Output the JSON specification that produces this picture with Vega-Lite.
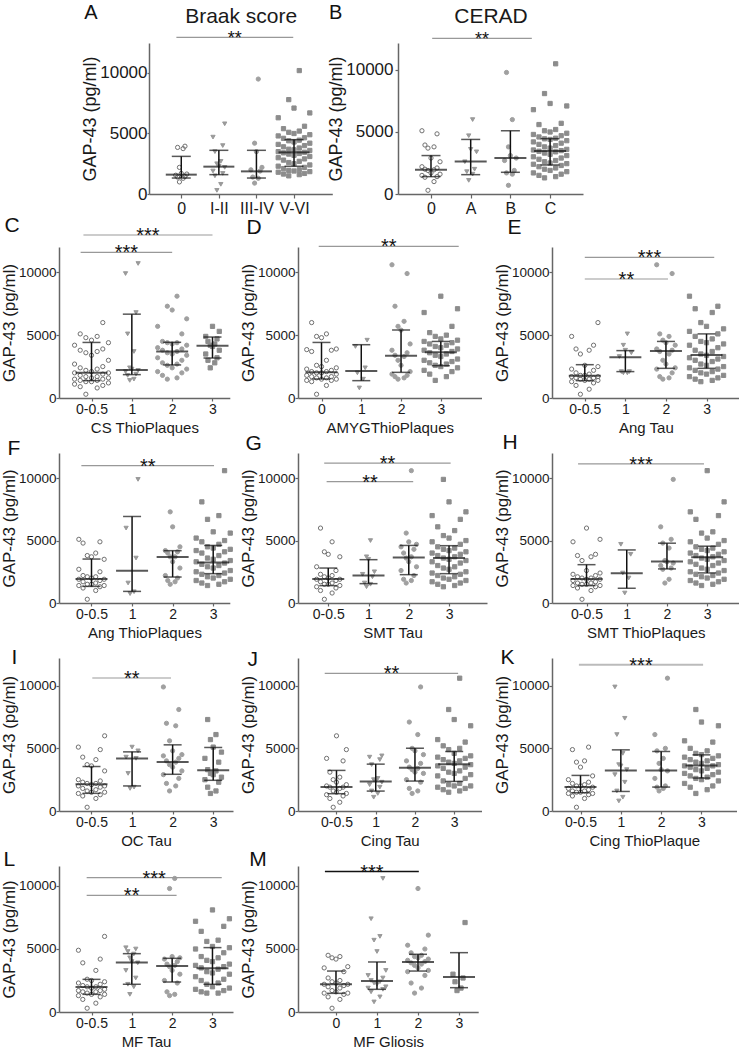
{
"$schema":"https://vega.github.io/schema/vega-lite/v6.json",
"background":"white",
"padding":{"left":0,"top":2,"right":0,"bottom":0},
"config":{"font":"Liberation Sans","view":{"stroke":null},
"axis":{"domainColor":"#666","domainWidth":1.5,"tickColor":"#666","tickWidth":1.2,"grid":false,"labelColor":"#1a1a1a","titleColor":"#1a1a1a","titleFontWeight":"normal","labelFont":"Liberation Sans","titleFont":"Liberation Sans"},
"title":{"font":"Liberation Sans","fontWeight":"normal","color":"#111"}},
"spacing":-2,
"datasets":{
"one":[{}],
"sig":[
{"p":"A","x1":-0.13,"x2":2.98,"y":12950,"s":"**"},
{"p":"B","x1":0.03,"x2":2.54,"y":12556,"s":"**"},
{"p":"C","x1":-0.2,"x2":3.0,"y":12967,"s":"***"},
{"p":"C","x1":-0.27,"x2":2.0,"y":11590,"s":"***"},
{"p":"D","x1":-0.07,"x2":3.45,"y":12068,"s":"**"},
{"p":"E","x1":0,"x2":3.19,"y":11193,"s":"***"},
{"p":"E","x1":0,"x2":2.05,"y":9467,"s":"**"},
{"p":"F","x1":-0.25,"x2":3.02,"y":11008,"s":"**"},
{"p":"G","x1":-0.1,"x2":3.04,"y":11200,"s":"**"},
{"p":"G","x1":-0.04,"x2":2.11,"y":9728,"s":"**"},
{"p":"H","x1":-0.21,"x2":2.92,"y":11147,"s":"***"},
{"p":"I","x1":0.02,"x2":1.96,"y":10616,"s":"**"},
{"p":"J","x1":-0.3,"x2":3.1,"y":10987,"s":"**"},
{"p":"K","x1":-0.04,"x2":3.04,"y":11672,"s":"***"},
{"p":"L","x1":-0.12,"x2":3.23,"y":10667,"s":"***"},
{"p":"L","x1":-0.12,"x2":2.11,"y":9262,"s":"**"},
{"p":"M","x1":-0.27,"x2":2.02,"y":11143,"s":"***"}],
"sum":[
{"p":"A","g":0,"med":1600,"q1":1320,"q3":3110},{"p":"A","g":1,"med":2260,"q1":1600,"q3":3610},{"p":"A","g":2,"med":1870,"q1":1320,"q3":3610},{"p":"A","g":3,"med":3440,"q1":2290,"q3":4490},
{"p":"B","g":0,"med":1950,"q1":1400,"q3":3100},{"p":"B","g":1,"med":2630,"q1":1560,"q3":4400},{"p":"B","g":2,"med":2900,"q1":1750,"q3":5100},{"p":"B","g":3,"med":3470,"q1":2340,"q3":4460},
{"p":"C","g":0,"med":2000,"q1":1380,"q3":4420},{"p":"C","g":1,"med":2230,"q1":1860,"q3":6670},{"p":"C","g":2,"med":3690,"q1":2630,"q3":4430},{"p":"C","g":3,"med":4160,"q1":3180,"q3":4850},
{"p":"D","g":0,"med":2040,"q1":1510,"q3":4420},{"p":"D","g":1,"med":2150,"q1":1380,"q3":4240},{"p":"D","g":2,"med":3370,"q1":2040,"q3":5410},{"p":"D","g":3,"med":3630,"q1":2570,"q3":4500},
{"p":"E","g":0,"med":1780,"q1":1380,"q3":2650},{"p":"E","g":1,"med":3240,"q1":2100,"q3":3770},{"p":"E","g":2,"med":3740,"q1":2360,"q3":4500},{"p":"E","g":3,"med":3420,"q1":2360,"q3":5100},
{"p":"F","g":0,"med":1920,"q1":1330,"q3":3520},{"p":"F","g":1,"med":2590,"q1":930,"q3":6930},{"p":"F","g":2,"med":3680,"q1":2080,"q3":4190},{"p":"F","g":3,"med":3250,"q1":2350,"q3":4610},
{"p":"G","g":0,"med":1920,"q1":1390,"q3":2800},{"p":"G","g":1,"med":2210,"q1":1550,"q3":3470},{"p":"G","g":2,"med":3650,"q1":2270,"q3":4610},{"p":"G","g":3,"med":3600,"q1":2350,"q3":4590},
{"p":"H","g":0,"med":1930,"q1":1390,"q3":3070},{"p":"H","g":1,"med":2380,"q1":1180,"q3":4250},{"p":"H","g":2,"med":3320,"q1":2730,"q3":4790},{"p":"H","g":3,"med":3660,"q1":2410,"q3":4550},
{"p":"I","g":0,"med":2130,"q1":1410,"q3":3550},{"p":"I","g":1,"med":4190,"q1":2000,"q3":4720},{"p":"I","g":2,"med":3920,"q1":2930,"q3":5280},{"p":"I","g":3,"med":3250,"q1":2450,"q3":5070},
{"p":"J","g":0,"med":1910,"q1":1380,"q3":3240},{"p":"J","g":1,"med":2360,"q1":1590,"q3":3740},{"p":"J","g":2,"med":3450,"q1":2390,"q3":5010},{"p":"J","g":3,"med":3740,"q1":2360,"q3":4750},
{"p":"K","g":0,"med":1910,"q1":1460,"q3":2840},{"p":"K","g":1,"med":3240,"q1":1560,"q3":4880},{"p":"K","g":2,"med":3240,"q1":1910,"q3":4750},{"p":"K","g":3,"med":3630,"q1":2630,"q3":4480},
{"p":"L","g":0,"med":1980,"q1":1400,"q3":2590},{"p":"L","g":1,"med":3920,"q1":2200,"q3":4630},{"p":"L","g":2,"med":3650,"q1":2380,"q3":4260},{"p":"L","g":3,"med":3470,"q1":2200,"q3":5110},
{"p":"M","g":0,"med":2200,"q1":1480,"q3":3250},{"p":"M","g":1,"med":2460,"q1":1800,"q3":3970},{"p":"M","g":2,"med":3970,"q1":3250,"q3":4580},{"p":"M","g":3,"med":2780,"q1":1930,"q3":4710}],
"A":[{"g":0,"v":3750},{"g":0,"v":3850},{"g":0,"v":3950},{"g":0,"v":2200},{"g":0,"v":1700},{"g":0,"v":1650},{"g":0,"v":1550},{"g":0,"v":1450},{"g":0,"v":1400},{"g":0,"v":1300},{"g":0,"v":1000},
{"g":1,"v":5800},{"g":1,"v":4700},{"g":1,"v":4000},{"g":1,"v":3500},{"g":1,"v":2700},{"g":1,"v":2500},{"g":1,"v":2300},{"g":1,"v":2200},{"g":1,"v":1900},{"g":1,"v":1700},{"g":1,"v":1500},{"g":1,"v":800},{"g":1,"v":300},
{"g":2,"v":9500},{"g":2,"v":4200},{"g":2,"v":3500},{"g":2,"v":2200},{"g":2,"v":2000},{"g":2,"v":1900},{"g":2,"v":1400},{"g":2,"v":1300},{"g":2,"v":900},
{"g":3,"v":10200},{"g":3,"v":7800},{"g":3,"v":7100},{"g":3,"v":6700},{"g":3,"v":6300},{"g":3,"v":5600},{"g":3,"v":5400},{"g":3,"v":5200},{"g":3,"v":5100},{"g":3,"v":5000},{"g":3,"v":4900},{"g":3,"v":4800},{"g":3,"v":4650},{"g":3,"v":4600},{"g":3,"v":4450},{"g":3,"v":4400},{"g":3,"v":4300},{"g":3,"v":4200},{"g":3,"v":4100},{"g":3,"v":4000},{"g":3,"v":3900},{"g":3,"v":3800},{"g":3,"v":3700},{"g":3,"v":3650},{"g":3,"v":3600},{"g":3,"v":3500},{"g":3,"v":3450},{"g":3,"v":3400},{"g":3,"v":3350},{"g":3,"v":3300},{"g":3,"v":3200},{"g":3,"v":3100},{"g":3,"v":3000},{"g":3,"v":2900},{"g":3,"v":2800},{"g":3,"v":2700},{"g":3,"v":2600},{"g":3,"v":2500},{"g":3,"v":2400},{"g":3,"v":2300},{"g":3,"v":2200},{"g":3,"v":2100},{"g":3,"v":2000},{"g":3,"v":1950},{"g":3,"v":1900},{"g":3,"v":1850},{"g":3,"v":1800},{"g":3,"v":1700},{"g":3,"v":1650},{"g":3,"v":1600},{"g":3,"v":1500}],
"B":[{"g":0,"v":5100},{"g":0,"v":4850},{"g":0,"v":3950},{"g":0,"v":3800},{"g":0,"v":3700},{"g":0,"v":2900},{"g":0,"v":2600},{"g":0,"v":2200},{"g":0,"v":2100},{"g":0,"v":2000},{"g":0,"v":1950},{"g":0,"v":1900},{"g":0,"v":1700},{"g":0,"v":1600},{"g":0,"v":1500},{"g":0,"v":1400},{"g":0,"v":1350},{"g":0,"v":1000},{"g":0,"v":300},
{"g":1,"v":6000},{"g":1,"v":4700},{"g":1,"v":3600},{"g":1,"v":3400},{"g":1,"v":2600},{"g":1,"v":2000},{"g":1,"v":1800},{"g":1,"v":1600},{"g":1,"v":1100},
{"g":2,"v":9800},{"g":2,"v":6000},{"g":2,"v":3800},{"g":2,"v":3100},{"g":2,"v":2900},{"g":2,"v":2700},{"g":2,"v":1900},{"g":2,"v":1700},{"g":2,"v":1600},{"g":2,"v":700},
{"g":3,"v":10500},{"g":3,"v":8100},{"g":3,"v":7300},{"g":3,"v":7100},{"g":3,"v":6800},{"g":3,"v":5700},{"g":3,"v":5600},{"g":3,"v":5200},{"g":3,"v":5100},{"g":3,"v":5000},{"g":3,"v":4900},{"g":3,"v":4800},{"g":3,"v":4700},{"g":3,"v":4600},{"g":3,"v":4500},{"g":3,"v":4450},{"g":3,"v":4400},{"g":3,"v":4300},{"g":3,"v":4200},{"g":3,"v":4100},{"g":3,"v":4000},{"g":3,"v":3900},{"g":3,"v":3800},{"g":3,"v":3700},{"g":3,"v":3600},{"g":3,"v":3550},{"g":3,"v":3500},{"g":3,"v":3450},{"g":3,"v":3400},{"g":3,"v":3300},{"g":3,"v":3200},{"g":3,"v":3100},{"g":3,"v":3000},{"g":3,"v":2900},{"g":3,"v":2800},{"g":3,"v":2700},{"g":3,"v":2600},{"g":3,"v":2500},{"g":3,"v":2450},{"g":3,"v":2400},{"g":3,"v":2300},{"g":3,"v":2200},{"g":3,"v":2100},{"g":3,"v":2000},{"g":3,"v":1900},{"g":3,"v":1800},{"g":3,"v":1700},{"g":3,"v":1600},{"g":3,"v":1500},{"g":3,"v":1400},{"g":3,"v":1300}],
"C":[{"g":0,"v":6000},{"g":0,"v":5100},{"g":0,"v":4900},{"g":0,"v":4800},{"g":0,"v":4600},{"g":0,"v":4400},{"g":0,"v":4200},{"g":0,"v":3900},{"g":0,"v":3800},{"g":0,"v":3700},{"g":0,"v":3600},{"g":0,"v":3400},{"g":0,"v":3000},{"g":0,"v":2700},{"g":0,"v":2500},{"g":0,"v":2400},{"g":0,"v":2300},{"g":0,"v":2200},{"g":0,"v":2100},{"g":0,"v":2000},{"g":0,"v":2000},{"g":0,"v":1900},{"g":0,"v":1800},{"g":0,"v":1700},{"g":0,"v":1700},{"g":0,"v":1600},{"g":0,"v":1600},{"g":0,"v":1500},{"g":0,"v":1500},{"g":0,"v":1400},{"g":0,"v":1400},{"g":0,"v":1300},{"g":0,"v":1300},{"g":0,"v":1200},{"g":0,"v":1100},{"g":0,"v":1000},{"g":0,"v":900},{"g":0,"v":800},{"g":0,"v":300},
{"g":1,"v":10700},{"g":1,"v":9900},{"g":1,"v":6800},{"g":1,"v":5100},{"g":1,"v":3700},{"g":1,"v":2400},{"g":1,"v":2300},{"g":1,"v":2200},{"g":1,"v":2100},{"g":1,"v":1900},{"g":1,"v":1800},{"g":1,"v":1500},{"g":1,"v":1400},
{"g":2,"v":8100},{"g":2,"v":7300},{"g":2,"v":7000},{"g":2,"v":6300},{"g":2,"v":5700},{"g":2,"v":5100},{"g":2,"v":4500},{"g":2,"v":4400},{"g":2,"v":4400},{"g":2,"v":4300},{"g":2,"v":4200},{"g":2,"v":4000},{"g":2,"v":3900},{"g":2,"v":3800},{"g":2,"v":3700},{"g":2,"v":3600},{"g":2,"v":3500},{"g":2,"v":3400},{"g":2,"v":3200},{"g":2,"v":3000},{"g":2,"v":2800},{"g":2,"v":2700},{"g":2,"v":2600},{"g":2,"v":2400},{"g":2,"v":2300},{"g":2,"v":2100},{"g":2,"v":2000},{"g":2,"v":1800},{"g":2,"v":1600},{"g":2,"v":1500},
{"g":3,"v":5700},{"g":3,"v":5300},{"g":3,"v":4900},{"g":3,"v":4700},{"g":3,"v":4500},{"g":3,"v":4300},{"g":3,"v":4200},{"g":3,"v":4100},{"g":3,"v":3800},{"g":3,"v":3500},{"g":3,"v":3200},{"g":3,"v":3000},{"g":3,"v":2800},{"g":3,"v":2400}],
"D":[{"g":0,"v":6000},{"g":0,"v":5100},{"g":0,"v":4900},{"g":0,"v":4800},{"g":0,"v":3900},{"g":0,"v":3850},{"g":0,"v":3800},{"g":0,"v":3700},{"g":0,"v":3000},{"g":0,"v":2600},{"g":0,"v":2500},{"g":0,"v":2400},{"g":0,"v":2300},{"g":0,"v":2200},{"g":0,"v":2100},{"g":0,"v":2100},{"g":0,"v":2000},{"g":0,"v":2000},{"g":0,"v":1900},{"g":0,"v":1800},{"g":0,"v":1700},{"g":0,"v":1700},{"g":0,"v":1600},{"g":0,"v":1600},{"g":0,"v":1500},{"g":0,"v":1500},{"g":0,"v":1400},{"g":0,"v":1400},{"g":0,"v":1300},{"g":0,"v":1000},{"g":0,"v":300},
{"g":1,"v":4600},{"g":1,"v":4100},{"g":1,"v":2400},{"g":1,"v":2000},{"g":1,"v":1500},{"g":1,"v":800},
{"g":2,"v":10600},{"g":2,"v":9900},{"g":2,"v":7300},{"g":2,"v":6100},{"g":2,"v":5700},{"g":2,"v":5400},{"g":2,"v":4300},{"g":2,"v":3800},{"g":2,"v":3600},{"g":2,"v":3400},{"g":2,"v":3300},{"g":2,"v":3000},{"g":2,"v":2600},{"g":2,"v":2100},{"g":2,"v":1900},{"g":2,"v":1800},{"g":2,"v":1700},{"g":2,"v":1600},{"g":2,"v":1500},
{"g":3,"v":8100},{"g":3,"v":7100},{"g":3,"v":6800},{"g":3,"v":5700},{"g":3,"v":5200},{"g":3,"v":5000},{"g":3,"v":4900},{"g":3,"v":4700},{"g":3,"v":4600},{"g":3,"v":4500},{"g":3,"v":4400},{"g":3,"v":4300},{"g":3,"v":4200},{"g":3,"v":4100},{"g":3,"v":4000},{"g":3,"v":3900},{"g":3,"v":3800},{"g":3,"v":3700},{"g":3,"v":3600},{"g":3,"v":3500},{"g":3,"v":3400},{"g":3,"v":3300},{"g":3,"v":3100},{"g":3,"v":3000},{"g":3,"v":2900},{"g":3,"v":2800},{"g":3,"v":2700},{"g":3,"v":2600},{"g":3,"v":2500},{"g":3,"v":2400},{"g":3,"v":2200},{"g":3,"v":2100},{"g":3,"v":1900},{"g":3,"v":1700},{"g":3,"v":1400}],
"E":[{"g":0,"v":6000},{"g":0,"v":4900},{"g":0,"v":4200},{"g":0,"v":3900},{"g":0,"v":3800},{"g":0,"v":3500},{"g":0,"v":2600},{"g":0,"v":2500},{"g":0,"v":2300},{"g":0,"v":2200},{"g":0,"v":2000},{"g":0,"v":1900},{"g":0,"v":1800},{"g":0,"v":1800},{"g":0,"v":1700},{"g":0,"v":1700},{"g":0,"v":1600},{"g":0,"v":1600},{"g":0,"v":1500},{"g":0,"v":1500},{"g":0,"v":1400},{"g":0,"v":1400},{"g":0,"v":1300},{"g":0,"v":1200},{"g":0,"v":1000},{"g":0,"v":700},{"g":0,"v":300},
{"g":1,"v":5100},{"g":1,"v":4200},{"g":1,"v":3800},{"g":1,"v":3600},{"g":1,"v":3300},{"g":1,"v":2100},{"g":1,"v":2100},{"g":1,"v":2000},{"g":1,"v":2000},
{"g":2,"v":10600},{"g":2,"v":9900},{"g":2,"v":5100},{"g":2,"v":4900},{"g":2,"v":4600},{"g":2,"v":4400},{"g":2,"v":4200},{"g":2,"v":3900},{"g":2,"v":3800},{"g":2,"v":3700},{"g":2,"v":3500},{"g":2,"v":3000},{"g":2,"v":2700},{"g":2,"v":2400},{"g":2,"v":2300},{"g":2,"v":2000},{"g":2,"v":1700},{"g":2,"v":1600},{"g":2,"v":1500},
{"g":3,"v":8100},{"g":3,"v":7300},{"g":3,"v":7100},{"g":3,"v":6800},{"g":3,"v":6000},{"g":3,"v":5700},{"g":3,"v":5500},{"g":3,"v":5300},{"g":3,"v":5100},{"g":3,"v":4900},{"g":3,"v":4700},{"g":3,"v":4500},{"g":3,"v":4400},{"g":3,"v":4300},{"g":3,"v":4200},{"g":3,"v":4000},{"g":3,"v":3800},{"g":3,"v":3700},{"g":3,"v":3500},{"g":3,"v":3400},{"g":3,"v":3300},{"g":3,"v":3200},{"g":3,"v":3100},{"g":3,"v":3000},{"g":3,"v":2900},{"g":3,"v":2700},{"g":3,"v":2600},{"g":3,"v":2500},{"g":3,"v":2400},{"g":3,"v":2300},{"g":3,"v":2200},{"g":3,"v":2100},{"g":3,"v":2000},{"g":3,"v":1900},{"g":3,"v":1800},{"g":3,"v":1700},{"g":3,"v":1600},{"g":3,"v":1500},{"g":3,"v":1400},{"g":3,"v":1300}],
"F":[{"g":0,"v":5100},{"g":0,"v":4900},{"g":0,"v":4800},{"g":0,"v":4000},{"g":0,"v":3800},{"g":0,"v":3700},{"g":0,"v":3500},{"g":0,"v":2700},{"g":0,"v":2500},{"g":0,"v":2200},{"g":0,"v":2100},{"g":0,"v":2100},{"g":0,"v":2000},{"g":0,"v":1900},{"g":0,"v":1900},{"g":0,"v":1800},{"g":0,"v":1700},{"g":0,"v":1600},{"g":0,"v":1500},{"g":0,"v":1500},{"g":0,"v":1400},{"g":0,"v":1400},{"g":0,"v":1300},{"g":0,"v":1200},{"g":0,"v":1000},{"g":0,"v":300},
{"g":1,"v":9900},{"g":1,"v":6000},{"g":1,"v":3600},{"g":1,"v":1600},{"g":1,"v":900},{"g":1,"v":750},
{"g":2,"v":7300},{"g":2,"v":6100},{"g":2,"v":4500},{"g":2,"v":4200},{"g":2,"v":4100},{"g":2,"v":4000},{"g":2,"v":3700},{"g":2,"v":3700},{"g":2,"v":3300},{"g":2,"v":2800},{"g":2,"v":2200},{"g":2,"v":2000},{"g":2,"v":1800},{"g":2,"v":1700},{"g":2,"v":1500},
{"g":3,"v":10600},{"g":3,"v":8100},{"g":3,"v":7000},{"g":3,"v":6700},{"g":3,"v":5700},{"g":3,"v":5600},{"g":3,"v":5200},{"g":3,"v":5000},{"g":3,"v":4900},{"g":3,"v":4700},{"g":3,"v":4500},{"g":3,"v":4400},{"g":3,"v":4300},{"g":3,"v":4200},{"g":3,"v":4100},{"g":3,"v":4000},{"g":3,"v":3800},{"g":3,"v":3600},{"g":3,"v":3500},{"g":3,"v":3400},{"g":3,"v":3300},{"g":3,"v":3200},{"g":3,"v":3100},{"g":3,"v":3000},{"g":3,"v":2900},{"g":3,"v":2800},{"g":3,"v":2600},{"g":3,"v":2500},{"g":3,"v":2400},{"g":3,"v":2300},{"g":3,"v":2200},{"g":3,"v":2100},{"g":3,"v":2000},{"g":3,"v":1900},{"g":3,"v":1800},{"g":3,"v":1700},{"g":3,"v":1600},{"g":3,"v":1500},{"g":3,"v":1400}],
"G":[{"g":0,"v":6000},{"g":0,"v":4900},{"g":0,"v":4100},{"g":0,"v":3900},{"g":0,"v":3700},{"g":0,"v":2900},{"g":0,"v":2600},{"g":0,"v":2300},{"g":0,"v":2200},{"g":0,"v":2100},{"g":0,"v":2000},{"g":0,"v":1900},{"g":0,"v":1900},{"g":0,"v":1800},{"g":0,"v":1700},{"g":0,"v":1600},{"g":0,"v":1500},{"g":0,"v":1500},{"g":0,"v":1400},{"g":0,"v":1300},{"g":0,"v":1200},{"g":0,"v":1000},{"g":0,"v":800},{"g":0,"v":300},
{"g":1,"v":5000},{"g":1,"v":3700},{"g":1,"v":3500},{"g":1,"v":2500},{"g":1,"v":2300},{"g":1,"v":2100},{"g":1,"v":1600},{"g":1,"v":1500},{"g":1,"v":1300},
{"g":2,"v":10600},{"g":2,"v":5600},{"g":2,"v":4900},{"g":2,"v":4700},{"g":2,"v":4500},{"g":2,"v":4300},{"g":2,"v":4000},{"g":2,"v":3700},{"g":2,"v":3600},{"g":2,"v":3300},{"g":2,"v":2900},{"g":2,"v":2600},{"g":2,"v":2200},{"g":2,"v":1900},{"g":2,"v":1800},{"g":2,"v":1600},
{"g":3,"v":9900},{"g":3,"v":8100},{"g":3,"v":7300},{"g":3,"v":7000},{"g":3,"v":6700},{"g":3,"v":6100},{"g":3,"v":5800},{"g":3,"v":5400},{"g":3,"v":5200},{"g":3,"v":5000},{"g":3,"v":4900},{"g":3,"v":4700},{"g":3,"v":4500},{"g":3,"v":4400},{"g":3,"v":4300},{"g":3,"v":4200},{"g":3,"v":4100},{"g":3,"v":4000},{"g":3,"v":3900},{"g":3,"v":3800},{"g":3,"v":3700},{"g":3,"v":3600},{"g":3,"v":3500},{"g":3,"v":3400},{"g":3,"v":3300},{"g":3,"v":3200},{"g":3,"v":3000},{"g":3,"v":2900},{"g":3,"v":2800},{"g":3,"v":2700},{"g":3,"v":2500},{"g":3,"v":2400},{"g":3,"v":2300},{"g":3,"v":2200},{"g":3,"v":2100},{"g":3,"v":2000},{"g":3,"v":1900},{"g":3,"v":1800},{"g":3,"v":1700},{"g":3,"v":1600},{"g":3,"v":1500},{"g":3,"v":1400},{"g":3,"v":1300}],
"H":[{"g":0,"v":6000},{"g":0,"v":5100},{"g":0,"v":4900},{"g":0,"v":3900},{"g":0,"v":3800},{"g":0,"v":3700},{"g":0,"v":3400},{"g":0,"v":2600},{"g":0,"v":2400},{"g":0,"v":2300},{"g":0,"v":2200},{"g":0,"v":2100},{"g":0,"v":2000},{"g":0,"v":2000},{"g":0,"v":1900},{"g":0,"v":1900},{"g":0,"v":1800},{"g":0,"v":1700},{"g":0,"v":1600},{"g":0,"v":1600},{"g":0,"v":1500},{"g":0,"v":1500},{"g":0,"v":1400},{"g":0,"v":1400},{"g":0,"v":1300},{"g":0,"v":1200},{"g":0,"v":1000},{"g":0,"v":300},
{"g":1,"v":4700},{"g":1,"v":3900},{"g":1,"v":2400},{"g":1,"v":2000},{"g":1,"v":800},
{"g":2,"v":9900},{"g":2,"v":6100},{"g":2,"v":5100},{"g":2,"v":4800},{"g":2,"v":4400},{"g":2,"v":3400},{"g":2,"v":3300},{"g":2,"v":3200},{"g":2,"v":3000},{"g":2,"v":2800},{"g":2,"v":2700},{"g":2,"v":1900},{"g":2,"v":1600},
{"g":3,"v":10600},{"g":3,"v":8100},{"g":3,"v":7300},{"g":3,"v":7000},{"g":3,"v":6700},{"g":3,"v":5700},{"g":3,"v":5600},{"g":3,"v":5200},{"g":3,"v":5000},{"g":3,"v":4900},{"g":3,"v":4700},{"g":3,"v":4500},{"g":3,"v":4400},{"g":3,"v":4300},{"g":3,"v":4200},{"g":3,"v":4100},{"g":3,"v":4000},{"g":3,"v":3900},{"g":3,"v":3800},{"g":3,"v":3700},{"g":3,"v":3600},{"g":3,"v":3500},{"g":3,"v":3400},{"g":3,"v":3300},{"g":3,"v":3200},{"g":3,"v":3100},{"g":3,"v":3000},{"g":3,"v":2800},{"g":3,"v":2700},{"g":3,"v":2600},{"g":3,"v":2500},{"g":3,"v":2400},{"g":3,"v":2300},{"g":3,"v":2200},{"g":3,"v":2100},{"g":3,"v":2000},{"g":3,"v":1900},{"g":3,"v":1800},{"g":3,"v":1700},{"g":3,"v":1600},{"g":3,"v":1500},{"g":3,"v":1400}],
"I":[{"g":0,"v":6000},{"g":0,"v":5100},{"g":0,"v":4900},{"g":0,"v":4300},{"g":0,"v":4100},{"g":0,"v":3700},{"g":0,"v":3600},{"g":0,"v":3200},{"g":0,"v":2500},{"g":0,"v":2400},{"g":0,"v":2300},{"g":0,"v":2200},{"g":0,"v":2200},{"g":0,"v":2100},{"g":0,"v":2000},{"g":0,"v":2000},{"g":0,"v":1900},{"g":0,"v":1800},{"g":0,"v":1700},{"g":0,"v":1600},{"g":0,"v":1500},{"g":0,"v":1500},{"g":0,"v":1400},{"g":0,"v":1300},{"g":0,"v":1200},{"g":0,"v":1000},{"g":0,"v":300},
{"g":1,"v":5100},{"g":1,"v":4800},{"g":1,"v":4300},{"g":1,"v":4200},{"g":1,"v":3000},{"g":1,"v":1900},{"g":1,"v":1800},
{"g":2,"v":9900},{"g":2,"v":8100},{"g":2,"v":7000},{"g":2,"v":6800},{"g":2,"v":5600},{"g":2,"v":4800},{"g":2,"v":4500},{"g":2,"v":4400},{"g":2,"v":4200},{"g":2,"v":4000},{"g":2,"v":3900},{"g":2,"v":3700},{"g":2,"v":3500},{"g":2,"v":3200},{"g":2,"v":2900},{"g":2,"v":2600},{"g":2,"v":2200},{"g":2,"v":2000},{"g":2,"v":1600},
{"g":3,"v":7300},{"g":3,"v":6100},{"g":3,"v":5700},{"g":3,"v":5100},{"g":3,"v":4700},{"g":3,"v":4200},{"g":3,"v":3900},{"g":3,"v":3300},{"g":3,"v":3200},{"g":3,"v":3000},{"g":3,"v":2900},{"g":3,"v":2700},{"g":3,"v":2500},{"g":3,"v":2300},{"g":3,"v":1900},{"g":3,"v":1600},{"g":3,"v":1400}],
"J":[{"g":0,"v":6000},{"g":0,"v":4900},{"g":0,"v":4200},{"g":0,"v":4000},{"g":0,"v":3100},{"g":0,"v":2700},{"g":0,"v":2500},{"g":0,"v":2300},{"g":0,"v":2100},{"g":0,"v":2000},{"g":0,"v":1900},{"g":0,"v":1900},{"g":0,"v":1800},{"g":0,"v":1600},{"g":0,"v":1500},{"g":0,"v":1400},{"g":0,"v":1300},{"g":0,"v":1200},{"g":0,"v":1000},{"g":0,"v":700},{"g":0,"v":300},
{"g":1,"v":4400},{"g":1,"v":4300},{"g":1,"v":4100},{"g":1,"v":3700},{"g":1,"v":2600},{"g":1,"v":2500},{"g":1,"v":2400},{"g":1,"v":2300},{"g":1,"v":2100},{"g":1,"v":1900},{"g":1,"v":1600},{"g":1,"v":1400},{"g":1,"v":1100},
{"g":2,"v":9900},{"g":2,"v":7100},{"g":2,"v":6100},{"g":2,"v":5000},{"g":2,"v":4800},{"g":2,"v":4500},{"g":2,"v":4000},{"g":2,"v":3800},{"g":2,"v":3500},{"g":2,"v":3400},{"g":2,"v":3300},{"g":2,"v":3100},{"g":2,"v":3000},{"g":2,"v":2500},{"g":2,"v":2300},{"g":2,"v":1800},{"g":2,"v":1600},{"g":2,"v":1400},
{"g":3,"v":10600},{"g":3,"v":8100},{"g":3,"v":7300},{"g":3,"v":6800},{"g":3,"v":5700},{"g":3,"v":5500},{"g":3,"v":5200},{"g":3,"v":5000},{"g":3,"v":4900},{"g":3,"v":4600},{"g":3,"v":4400},{"g":3,"v":4300},{"g":3,"v":4200},{"g":3,"v":4100},{"g":3,"v":4000},{"g":3,"v":3900},{"g":3,"v":3800},{"g":3,"v":3700},{"g":3,"v":3600},{"g":3,"v":3500},{"g":3,"v":3400},{"g":3,"v":3200},{"g":3,"v":3100},{"g":3,"v":3000},{"g":3,"v":2900},{"g":3,"v":2800},{"g":3,"v":2600},{"g":3,"v":2400},{"g":3,"v":2200},{"g":3,"v":2100},{"g":3,"v":2000},{"g":3,"v":2000},{"g":3,"v":1900},{"g":3,"v":1800},{"g":3,"v":1700},{"g":3,"v":1600},{"g":3,"v":1500}],
"K":[{"g":0,"v":5100},{"g":0,"v":4900},{"g":0,"v":4000},{"g":0,"v":3900},{"g":0,"v":3500},{"g":0,"v":2800},{"g":0,"v":2500},{"g":0,"v":2300},{"g":0,"v":2200},{"g":0,"v":2100},{"g":0,"v":2000},{"g":0,"v":2000},{"g":0,"v":1900},{"g":0,"v":1800},{"g":0,"v":1700},{"g":0,"v":1600},{"g":0,"v":1600},{"g":0,"v":1500},{"g":0,"v":1500},{"g":0,"v":1400},{"g":0,"v":1400},{"g":0,"v":1300},{"g":0,"v":1200},{"g":0,"v":1000},{"g":0,"v":300},
{"g":1,"v":9900},{"g":1,"v":7400},{"g":1,"v":6100},{"g":1,"v":4600},{"g":1,"v":3700},{"g":1,"v":3600},{"g":1,"v":3300},{"g":1,"v":2900},{"g":1,"v":2300},{"g":1,"v":1600},{"g":1,"v":1100},{"g":1,"v":800},
{"g":2,"v":10600},{"g":2,"v":6100},{"g":2,"v":5000},{"g":2,"v":4800},{"g":2,"v":4200},{"g":2,"v":3800},{"g":2,"v":3300},{"g":2,"v":3200},{"g":2,"v":2600},{"g":2,"v":2000},{"g":2,"v":1900},{"g":2,"v":1800},{"g":2,"v":1600},
{"g":3,"v":8100},{"g":3,"v":7100},{"g":3,"v":6800},{"g":3,"v":5600},{"g":3,"v":5500},{"g":3,"v":5000},{"g":3,"v":4800},{"g":3,"v":4600},{"g":3,"v":4500},{"g":3,"v":4400},{"g":3,"v":4300},{"g":3,"v":4200},{"g":3,"v":4100},{"g":3,"v":4000},{"g":3,"v":3900},{"g":3,"v":3800},{"g":3,"v":3700},{"g":3,"v":3600},{"g":3,"v":3600},{"g":3,"v":3500},{"g":3,"v":3400},{"g":3,"v":3300},{"g":3,"v":3200},{"g":3,"v":3100},{"g":3,"v":3000},{"g":3,"v":2900},{"g":3,"v":2800},{"g":3,"v":2700},{"g":3,"v":2600},{"g":3,"v":2500},{"g":3,"v":2400},{"g":3,"v":2200},{"g":3,"v":2000},{"g":3,"v":1900},{"g":3,"v":1700},{"g":3,"v":1400}],
"L":[{"g":0,"v":6000},{"g":0,"v":4900},{"g":0,"v":4200},{"g":0,"v":3900},{"g":0,"v":3300},{"g":0,"v":2600},{"g":0,"v":2500},{"g":0,"v":2400},{"g":0,"v":2300},{"g":0,"v":2200},{"g":0,"v":2100},{"g":0,"v":2000},{"g":0,"v":2000},{"g":0,"v":1900},{"g":0,"v":1800},{"g":0,"v":1700},{"g":0,"v":1700},{"g":0,"v":1600},{"g":0,"v":1600},{"g":0,"v":1500},{"g":0,"v":1400},{"g":0,"v":1400},{"g":0,"v":1300},{"g":0,"v":1200},{"g":0,"v":1000},{"g":0,"v":700},{"g":0,"v":300},
{"g":1,"v":5100},{"g":1,"v":5000},{"g":1,"v":4800},{"g":1,"v":4600},{"g":1,"v":4300},{"g":1,"v":4000},{"g":1,"v":3900},{"g":1,"v":3300},{"g":1,"v":2700},{"g":1,"v":2200},{"g":1,"v":2000},{"g":1,"v":1400},
{"g":2,"v":10600},{"g":2,"v":9800},{"g":2,"v":4400},{"g":2,"v":4300},{"g":2,"v":4200},{"g":2,"v":4000},{"g":2,"v":3800},{"g":2,"v":3700},{"g":2,"v":3600},{"g":2,"v":3300},{"g":2,"v":3000},{"g":2,"v":2500},{"g":2,"v":2300},{"g":2,"v":1600},{"g":2,"v":1400},{"g":2,"v":1300},
{"g":3,"v":8100},{"g":3,"v":7400},{"g":3,"v":7200},{"g":3,"v":6800},{"g":3,"v":6400},{"g":3,"v":5700},{"g":3,"v":5600},{"g":3,"v":5200},{"g":3,"v":5100},{"g":3,"v":5000},{"g":3,"v":4700},{"g":3,"v":4400},{"g":3,"v":4300},{"g":3,"v":4100},{"g":3,"v":4000},{"g":3,"v":3800},{"g":3,"v":3700},{"g":3,"v":3600},{"g":3,"v":3500},{"g":3,"v":3400},{"g":3,"v":3200},{"g":3,"v":3100},{"g":3,"v":3000},{"g":3,"v":2800},{"g":3,"v":2600},{"g":3,"v":2500},{"g":3,"v":2300},{"g":3,"v":2200},{"g":3,"v":2000},{"g":3,"v":1900},{"g":3,"v":1800},{"g":3,"v":1700},{"g":3,"v":1600},{"g":3,"v":1500},{"g":3,"v":1500}],
"M":[{"g":0,"v":4500},{"g":0,"v":4400},{"g":0,"v":4300},{"g":0,"v":4200},{"g":0,"v":3600},{"g":0,"v":3500},{"g":0,"v":3200},{"g":0,"v":2700},{"g":0,"v":2500},{"g":0,"v":2400},{"g":0,"v":2300},{"g":0,"v":2200},{"g":0,"v":2200},{"g":0,"v":2100},{"g":0,"v":2000},{"g":0,"v":1900},{"g":0,"v":1700},{"g":0,"v":1600},{"g":0,"v":1500},{"g":0,"v":1500},{"g":0,"v":1400},{"g":0,"v":1200},{"g":0,"v":1000},{"g":0,"v":300},
{"g":1,"v":10600},{"g":1,"v":7400},{"g":1,"v":6000},{"g":1,"v":5700},{"g":1,"v":4800},{"g":1,"v":3300},{"g":1,"v":2900},{"g":1,"v":2700},{"g":1,"v":2500},{"g":1,"v":2400},{"g":1,"v":2300},{"g":1,"v":2200},{"g":1,"v":2000},{"g":1,"v":1900},{"g":1,"v":1800},{"g":1,"v":1600},{"g":1,"v":1200},{"g":1,"v":800},
{"g":2,"v":9800},{"g":2,"v":6100},{"g":2,"v":5300},{"g":2,"v":5000},{"g":2,"v":4700},{"g":2,"v":4500},{"g":2,"v":4400},{"g":2,"v":4300},{"g":2,"v":4200},{"g":2,"v":4100},{"g":2,"v":4000},{"g":2,"v":3900},{"g":2,"v":3800},{"g":2,"v":3700},{"g":2,"v":3500},{"g":2,"v":3300},{"g":2,"v":3200},{"g":2,"v":2900},{"g":2,"v":2300},{"g":2,"v":1900},{"g":2,"v":1500},
{"g":3,"v":7100},{"g":3,"v":3000},{"g":3,"v":2700},{"g":3,"v":2400},{"g":3,"v":1900},{"g":3,"v":1700}]
},
"vconcat":[
{"hconcat":[
{"width":24.2,"height":151,"data":{"values":[]},"mark":"point"},

{"width":183.3,"height":151,
"resolve":{"axis":{"x":"independent"}},
"layer":[
{"data":{"name":"A"},"transform":[{"window":[{"op":"row_number","as":"rn"}],"groupby":["g"],"sort":[{"field":"v","order":"ascending"}]},{"joinaggregate":[{"op":"count","as":"n"}],"groupby":["g"]},{"calculate":"datum.g + [0,-1,1,-2,2,-3,3][datum.rn % 7] * 0.14 * min(1, max(0.35, datum.n / 35))","as":"xj"}],
"mark":{"type":"point","size":18,"strokeWidth":1,"opacity":1},
"encoding":{"x":{"field":"xj","type":"quantitative","scale":{"domain":[-0.859,4.019],"nice":false,"zero":false},"axis":{"values":[0,1,2,3],"labelExpr":"['0','I-II','III-IV','V-VI'][datum.value]","title":null,"labelFontSize":16,"tickSize":4,"labelPadding":2}},
"y":{"field":"v","type":"quantitative","scale":{"domain":[0,12479],"nice":false,"zero":false},"axis":{"values":[0,5000,10000],"format":"d","title":"GAP-43 (pg/ml)","labelFontSize":17,"titleFontSize":18,"tickSize":2,"labelPadding":0,"titlePadding":0}},
"shape":{"field":"g","type":"nominal","scale":{"domain":[0,1,2,3],"range":["circle","triangle-down","circle","square"]},"legend":null},
"fill":{"field":"g","type":"nominal","scale":{"domain":[0,1,2,3],"range":["transparent","#9a9a9a","#a0a0a0","#8c8c8c"]},"legend":null},
"stroke":{"field":"g","type":"nominal","scale":{"domain":[0,1,2,3],"range":["#707070","#9a9a9a","#a0a0a0","#8c8c8c"]},"legend":null}}},
{"data":{"name":"sum"},"transform":[{"filter":"datum.p=='A'"}],"mark":{"type":"rule","color":"#111","strokeWidth":1.5},"encoding":{"x":{"field":"g","type":"quantitative","axis":null},"y":{"field":"q1","type":"quantitative"},"y2":{"field":"q3"}}},
{"data":{"name":"sum"},"transform":[{"filter":"datum.p=='A'"}],"mark":{"type":"tick","orient":"horizontal","color":"#111","size":31,"thickness":2},"encoding":{"x":{"field":"g","type":"quantitative","axis":null},"y":{"field":"med","type":"quantitative"}}},
{"data":{"name":"sum"},"transform":[{"filter":"datum.p=='A'"},{"fold":["q1","q3"],"as":["k","qv"]}],"mark":{"type":"tick","orient":"horizontal","color":"#111","size":19,"thickness":1.5},"encoding":{"x":{"field":"g","type":"quantitative","axis":null},"y":{"field":"qv","type":"quantitative"}}},
{"data":{"name":"sig"},"transform":[{"filter":"datum.p=='A'"}],"mark":{"type":"rule","color":"#999","strokeWidth":1.2},"encoding":{"x":{"field":"x1","type":"quantitative","axis":{"orient":"top","title":"Braak score","labels":false,"ticks":false,"domain":false,"titleFontSize":21,"titlePadding":21,"titleBaseline":"alphabetic"}},"x2":{"field":"x2"},"y":{"field":"y","type":"quantitative"}}},
{"data":{"name":"sig"},"transform":[{"filter":"datum.p=='A'"},{"calculate":"(datum.x1+datum.x2)/2","as":"xm"}],"mark":{"type":"text","fontSize":18,"baseline":"alphabetic","dy":7,"color":"#111"},"encoding":{"x":{"field":"xm","type":"quantitative","axis":null},"y":{"field":"y","type":"quantitative"},"text":{"field":"s"}}},
{"data":{"name":"one"},"mark":{"type":"text","text":"A","fontSize":20,"align":"left","baseline":"alphabetic","color":"#111"},"encoding":{"x":{"datum":-2.582,"type":"quantitative","axis":null},"y":{"datum":14463,"type":"quantitative"}}}
]},

{"width":185,"height":151,
"resolve":{"axis":{"x":"independent"}},
"layer":[
{"data":{"name":"B"},"transform":[{"window":[{"op":"row_number","as":"rn"}],"groupby":["g"],"sort":[{"field":"v","order":"ascending"}]},{"joinaggregate":[{"op":"count","as":"n"}],"groupby":["g"]},{"calculate":"datum.g + [0,-1,1,-2,2,-3,3][datum.rn % 7] * 0.14 * min(1, max(0.35, datum.n / 35))","as":"xj"}],
"mark":{"type":"point","size":18,"strokeWidth":1,"opacity":1},
"encoding":{"x":{"field":"xj","type":"quantitative","scale":{"domain":[-0.831,3.829],"nice":false,"zero":false},"axis":{"values":[0,1,2,3],"labelExpr":"['0','A','B','C'][datum.value]","title":null,"labelFontSize":16,"tickSize":4,"labelPadding":2}},
"y":{"field":"v","type":"quantitative","scale":{"domain":[0,12177],"nice":false,"zero":false},"axis":{"values":[0,5000,10000],"format":"d","title":"GAP-43 (pg/ml)","labelFontSize":17,"titleFontSize":18,"tickSize":3,"labelPadding":2,"titlePadding":0}},
"shape":{"field":"g","type":"nominal","scale":{"domain":[0,1,2,3],"range":["circle","triangle-down","circle","square"]},"legend":null},
"fill":{"field":"g","type":"nominal","scale":{"domain":[0,1,2,3],"range":["transparent","#9a9a9a","#a0a0a0","#8c8c8c"]},"legend":null},
"stroke":{"field":"g","type":"nominal","scale":{"domain":[0,1,2,3],"range":["#707070","#9a9a9a","#a0a0a0","#8c8c8c"]},"legend":null}}},
{"data":{"name":"sum"},"transform":[{"filter":"datum.p=='B'"}],"mark":{"type":"rule","color":"#111","strokeWidth":1.5},"encoding":{"x":{"field":"g","type":"quantitative","axis":null},"y":{"field":"q1","type":"quantitative"},"y2":{"field":"q3"}}},
{"data":{"name":"sum"},"transform":[{"filter":"datum.p=='B'"}],"mark":{"type":"tick","orient":"horizontal","color":"#111","size":32,"thickness":2},"encoding":{"x":{"field":"g","type":"quantitative","axis":null},"y":{"field":"med","type":"quantitative"}}},
{"data":{"name":"sum"},"transform":[{"filter":"datum.p=='B'"},{"fold":["q1","q3"],"as":["k","qv"]}],"mark":{"type":"tick","orient":"horizontal","color":"#111","size":19,"thickness":1.5},"encoding":{"x":{"field":"g","type":"quantitative","axis":null},"y":{"field":"qv","type":"quantitative"}}},
{"data":{"name":"sig"},"transform":[{"filter":"datum.p=='B'"}],"mark":{"type":"rule","color":"#999","strokeWidth":1.2},"encoding":{"x":{"field":"x1","type":"quantitative","axis":{"orient":"top","title":"CERAD","labels":false,"ticks":false,"domain":false,"titleFontSize":21,"titlePadding":21,"titleBaseline":"alphabetic"}},"x2":{"field":"x2"},"y":{"field":"y","type":"quantitative"}}},
{"data":{"name":"sig"},"transform":[{"filter":"datum.p=='B'"},{"calculate":"(datum.x1+datum.x2)/2","as":"xm"}],"mark":{"type":"text","fontSize":18,"baseline":"alphabetic","dy":7,"color":"#111"},"encoding":{"x":{"field":"xm","type":"quantitative","axis":null},"y":{"field":"y","type":"quantitative"},"text":{"field":"s"}}},
{"data":{"name":"one"},"mark":{"type":"text","text":"B","fontSize":20,"align":"left","baseline":"alphabetic","color":"#111"},"encoding":{"x":{"datum":-2.569,"type":"quantitative","axis":null},"y":{"datum":14113,"type":"quantitative"}}}
]}
],"bounds":"flush","spacing":65},

{"concat":[
{"width":170.8,"height":151,
"layer":[
{"data":{"name":"C"},"transform":[{"window":[{"op":"row_number","as":"rn"}],"groupby":["g"],"sort":[{"field":"v","order":"ascending"}]},{"joinaggregate":[{"op":"count","as":"n"}],"groupby":["g"]},{"calculate":"datum.g + [0,-1,1,-2,2,-3,3][datum.rn % 7] * 0.14 * min(1, max(0.35, datum.n / 35))","as":"xj"}],
"mark":{"type":"point","size":18,"strokeWidth":1,"opacity":1},
"encoding":{"x":{"field":"xj","type":"quantitative","scale":{"domain":[-0.806,3.429],"nice":false,"zero":false},"axis":{"values":[0,1,2,3],"labelExpr":"['0-0.5','1','2','3'][datum.value]","title":"CS ThioPlaques","labelFontSize":14,"titleFontSize":15,"tickSize":3,"labelPadding":1,"titlePadding":4}},
"y":{"field":"v","type":"quantitative","scale":{"domain":[0,12013],"nice":false,"zero":false},"axis":{"values":[0,5000,10000],"format":"d","title":"GAP-43 (pg/ml)","labelFontSize":13.5,"titleFontSize":17,"tickSize":3,"labelPadding":0,"titlePadding":0}},
"shape":{"field":"g","type":"nominal","scale":{"domain":[0,1,2,3],"range":["circle","triangle-down","circle","circle"]},"legend":null},
"fill":{"field":"g","type":"nominal","scale":{"domain":[0,1,2,3],"range":["transparent","#9a9a9a","#a8a8a8","#000000"]},"legend":null},
"stroke":{"field":"g","type":"nominal","scale":{"domain":[0,1,2,3],"range":["#707070","#9a9a9a","#a8a8a8","#000000"]},"legend":null}}},
{"data":{"name":"sum"},"transform":[{"filter":"datum.p=='C'"}],"mark":{"type":"rule","color":"#111","strokeWidth":1.5},"encoding":{"x":{"field":"g","type":"quantitative"},"y":{"field":"q1","type":"quantitative"},"y2":{"field":"q3"}}},
{"data":{"name":"sum"},"transform":[{"filter":"datum.p=='C'"}],"mark":{"type":"tick","orient":"horizontal","color":"#111","size":32,"thickness":2},"encoding":{"x":{"field":"g","type":"quantitative"},"y":{"field":"med","type":"quantitative"}}},
{"data":{"name":"sum"},"transform":[{"filter":"datum.p=='C'"},{"fold":["q1","q3"],"as":["k","qv"]}],"mark":{"type":"tick","orient":"horizontal","color":"#111","size":18,"thickness":1.5},"encoding":{"x":{"field":"g","type":"quantitative"},"y":{"field":"qv","type":"quantitative"}}},
{"data":{"name":"sig"},"transform":[{"filter":"datum.p=='C'"}],"mark":{"type":"rule","color":"#999","strokeWidth":1.2},"encoding":{"x":{"field":"x1","type":"quantitative"},"x2":{"field":"x2"},"y":{"field":"y","type":"quantitative"}}},
{"data":{"name":"sig"},"transform":[{"filter":"datum.p=='C'"},{"calculate":"(datum.x1+datum.x2)/2","as":"xm"}],"mark":{"type":"text","fontSize":20,"baseline":"alphabetic","dy":7,"color":"#111"},"encoding":{"x":{"field":"xm","type":"quantitative"},"y":{"field":"y","type":"quantitative"},"text":{"field":"s"}}},
{"data":{"name":"one"},"mark":{"type":"text","text":"C","fontSize":21,"align":"left","baseline":"alphabetic","color":"#111"},"encoding":{"x":{"datum":-2.157,"type":"quantitative"},"y":{"datum":13246,"type":"quantitative"}}}
]},

{"width":183.5,"height":151,
"layer":[
{"data":{"name":"D"},"transform":[{"window":[{"op":"row_number","as":"rn"}],"groupby":["g"],"sort":[{"field":"v","order":"ascending"}]},{"joinaggregate":[{"op":"count","as":"n"}],"groupby":["g"]},{"calculate":"datum.g + [0,-1,1,-2,2,-3,3][datum.rn % 7] * 0.14 * min(1, max(0.35, datum.n / 35))","as":"xj"}],
"mark":{"type":"point","size":18,"strokeWidth":1,"opacity":1},
"encoding":{"x":{"field":"xj","type":"quantitative","scale":{"domain":[-0.591,4.023],"nice":false,"zero":false},"axis":{"values":[0,1,2,3],"labelExpr":"['0','1','2','3'][datum.value]","title":"AMYGThioPlaques","labelFontSize":14,"titleFontSize":15,"tickSize":3,"labelPadding":1,"titlePadding":4}},
"y":{"field":"v","type":"quantitative","scale":{"domain":[0,12013],"nice":false,"zero":false},"axis":{"values":[0,5000,10000],"format":"d","title":"GAP-43 (pg/ml)","labelFontSize":13.5,"titleFontSize":17,"tickSize":3,"labelPadding":0,"titlePadding":0}},
"shape":{"field":"g","type":"nominal","scale":{"domain":[0,1,2,3],"range":["circle","triangle-down","circle","square"]},"legend":null},
"fill":{"field":"g","type":"nominal","scale":{"domain":[0,1,2,3],"range":["transparent","#9a9a9a","#a0a0a0","#8c8c8c"]},"legend":null},
"stroke":{"field":"g","type":"nominal","scale":{"domain":[0,1,2,3],"range":["#707070","#9a9a9a","#a0a0a0","#8c8c8c"]},"legend":null}}},
{"data":{"name":"sum"},"transform":[{"filter":"datum.p=='D'"}],"mark":{"type":"rule","color":"#111","strokeWidth":1.5},"encoding":{"x":{"field":"g","type":"quantitative"},"y":{"field":"q1","type":"quantitative"},"y2":{"field":"q3"}}},
{"data":{"name":"sum"},"transform":[{"filter":"datum.p=='D'"}],"mark":{"type":"tick","orient":"horizontal","color":"#111","size":32,"thickness":2},"encoding":{"x":{"field":"g","type":"quantitative"},"y":{"field":"med","type":"quantitative"}}},
{"data":{"name":"sum"},"transform":[{"filter":"datum.p=='D'"},{"fold":["q1","q3"],"as":["k","qv"]}],"mark":{"type":"tick","orient":"horizontal","color":"#111","size":18,"thickness":1.5},"encoding":{"x":{"field":"g","type":"quantitative"},"y":{"field":"qv","type":"quantitative"}}},
{"data":{"name":"sig"},"transform":[{"filter":"datum.p=='D'"}],"mark":{"type":"rule","color":"#999","strokeWidth":1.2},"encoding":{"x":{"field":"x1","type":"quantitative"},"x2":{"field":"x2"},"y":{"field":"y","type":"quantitative"}}},
{"data":{"name":"sig"},"transform":[{"filter":"datum.p=='D'"},{"calculate":"(datum.x1+datum.x2)/2","as":"xm"}],"mark":{"type":"text","fontSize":20,"baseline":"alphabetic","dy":7,"color":"#111"},"encoding":{"x":{"field":"xm","type":"quantitative"},"y":{"field":"y","type":"quantitative"},"text":{"field":"s"}}},
{"data":{"name":"one"},"mark":{"type":"text","text":"D","fontSize":21,"align":"left","baseline":"alphabetic","color":"#111"},"encoding":{"x":{"datum":-1.886,"type":"quantitative"},"y":{"datum":13047,"type":"quantitative"}}}
]},

{"width":187.8,"height":151,
"layer":[
{"data":{"name":"E"},"transform":[{"window":[{"op":"row_number","as":"rn"}],"groupby":["g"],"sort":[{"field":"v","order":"ascending"}]},{"joinaggregate":[{"op":"count","as":"n"}],"groupby":["g"]},{"calculate":"datum.g + [0,-1,1,-2,2,-3,3][datum.rn % 7] * 0.14 * min(1, max(0.35, datum.n / 35))","as":"xj"}],
"mark":{"type":"point","size":18,"strokeWidth":1,"opacity":1},
"encoding":{"x":{"field":"xj","type":"quantitative","scale":{"domain":[-0.808,3.82],"nice":false,"zero":false},"axis":{"values":[0,1,2,3],"labelExpr":"['0-0.5','1','2','3'][datum.value]","title":"Ang Tau","labelFontSize":14,"titleFontSize":15,"tickSize":3,"labelPadding":1,"titlePadding":4}},
"y":{"field":"v","type":"quantitative","scale":{"domain":[0,12013],"nice":false,"zero":false},"axis":{"values":[0,5000,10000],"format":"d","title":"GAP-43 (pg/ml)","labelFontSize":13.5,"titleFontSize":17,"tickSize":3,"labelPadding":0,"titlePadding":0}},
"shape":{"field":"g","type":"nominal","scale":{"domain":[0,1,2,3],"range":["circle","circle","square","circle"]},"legend":null},
"fill":{"field":"g","type":"nominal","scale":{"domain":[0,1,2,3],"range":["transparent","#a0a0a0","#8c8c8c","transparent"]},"legend":null},
"stroke":{"field":"g","type":"nominal","scale":{"domain":[0,1,2,3],"range":["#707070","#a0a0a0","#8c8c8c","#a8a8a8"]},"legend":null}}},
{"data":{"name":"sum"},"transform":[{"filter":"datum.p=='E'"}],"mark":{"type":"rule","color":"#111","strokeWidth":1.5},"encoding":{"x":{"field":"g","type":"quantitative"},"y":{"field":"q1","type":"quantitative"},"y2":{"field":"q3"}}},
{"data":{"name":"sum"},"transform":[{"filter":"datum.p=='E'"}],"mark":{"type":"tick","orient":"horizontal","color":"#111","size":32,"thickness":2},"encoding":{"x":{"field":"g","type":"quantitative"},"y":{"field":"med","type":"quantitative"}}},
{"data":{"name":"sum"},"transform":[{"filter":"datum.p=='E'"},{"fold":["q1","q3"],"as":["k","qv"]}],"mark":{"type":"tick","orient":"horizontal","color":"#111","size":18,"thickness":1.5},"encoding":{"x":{"field":"g","type":"quantitative"},"y":{"field":"qv","type":"quantitative"}}},
{"data":{"name":"sig"},"transform":[{"filter":"datum.p=='E'"}],"mark":{"type":"rule","color":"#999","strokeWidth":1.2},"encoding":{"x":{"field":"x1","type":"quantitative"},"x2":{"field":"x2"},"y":{"field":"y","type":"quantitative"}}},
{"data":{"name":"sig"},"transform":[{"filter":"datum.p=='E'"},{"calculate":"(datum.x1+datum.x2)/2","as":"xm"}],"mark":{"type":"text","fontSize":20,"baseline":"alphabetic","dy":7,"color":"#111"},"encoding":{"x":{"field":"xm","type":"quantitative"},"y":{"field":"y","type":"quantitative"},"text":{"field":"s"}}},
{"data":{"name":"one"},"mark":{"type":"text","text":"E","fontSize":21,"align":"left","baseline":"alphabetic","color":"#111"},"encoding":{"x":{"datum":-1.905,"type":"quantitative"},"y":{"datum":13047,"type":"quantitative"}}}
]},

{"width":170.8,"height":150,
"layer":[
{"data":{"name":"F"},"transform":[{"window":[{"op":"row_number","as":"rn"}],"groupby":["g"],"sort":[{"field":"v","order":"ascending"}]},{"joinaggregate":[{"op":"count","as":"n"}],"groupby":["g"]},{"calculate":"datum.g + [0,-1,1,-2,2,-3,3][datum.rn % 7] * 0.14 * min(1, max(0.35, datum.n / 35))","as":"xj"}],
"mark":{"type":"point","size":18,"strokeWidth":1,"opacity":1},
"encoding":{"x":{"field":"xj","type":"quantitative","scale":{"domain":[-0.801,3.409],"nice":false,"zero":false},"axis":{"values":[0,1,2,3],"labelExpr":"['0-0.5','1','2','3'][datum.value]","title":"Ang ThioPlaques","labelFontSize":14,"titleFontSize":15,"tickSize":3,"labelPadding":1,"titlePadding":4}},
"y":{"field":"v","type":"quantitative","scale":{"domain":[0,12014],"nice":false,"zero":false},"axis":{"values":[0,5000,10000],"format":"d","title":"GAP-43 (pg/ml)","labelFontSize":13.5,"titleFontSize":17,"tickSize":3,"labelPadding":0,"titlePadding":0}},
"shape":{"field":"g","type":"nominal","scale":{"domain":[0,1,2,3],"range":["circle","circle","square","circle"]},"legend":null},
"fill":{"field":"g","type":"nominal","scale":{"domain":[0,1,2,3],"range":["transparent","#a0a0a0","#8c8c8c","transparent"]},"legend":null},
"stroke":{"field":"g","type":"nominal","scale":{"domain":[0,1,2,3],"range":["#707070","#a0a0a0","#8c8c8c","#a8a8a8"]},"legend":null}}},
{"data":{"name":"sum"},"transform":[{"filter":"datum.p=='F'"}],"mark":{"type":"rule","color":"#111","strokeWidth":1.5},"encoding":{"x":{"field":"g","type":"quantitative"},"y":{"field":"q1","type":"quantitative"},"y2":{"field":"q3"}}},
{"data":{"name":"sum"},"transform":[{"filter":"datum.p=='F'"}],"mark":{"type":"tick","orient":"horizontal","color":"#111","size":32,"thickness":2},"encoding":{"x":{"field":"g","type":"quantitative"},"y":{"field":"med","type":"quantitative"}}},
{"data":{"name":"sum"},"transform":[{"filter":"datum.p=='F'"},{"fold":["q1","q3"],"as":["k","qv"]}],"mark":{"type":"tick","orient":"horizontal","color":"#111","size":18,"thickness":1.5},"encoding":{"x":{"field":"g","type":"quantitative"},"y":{"field":"qv","type":"quantitative"}}},
{"data":{"name":"sig"},"transform":[{"filter":"datum.p=='F'"}],"mark":{"type":"rule","color":"#999","strokeWidth":1.2},"encoding":{"x":{"field":"x1","type":"quantitative"},"x2":{"field":"x2"},"y":{"field":"y","type":"quantitative"}}},
{"data":{"name":"sig"},"transform":[{"filter":"datum.p=='F'"},{"calculate":"(datum.x1+datum.x2)/2","as":"xm"}],"mark":{"type":"text","fontSize":20,"baseline":"alphabetic","dy":7,"color":"#111"},"encoding":{"x":{"field":"xm","type":"quantitative"},"y":{"field":"y","type":"quantitative"},"text":{"field":"s"}}},
{"data":{"name":"one"},"mark":{"type":"text","text":"F","fontSize":21,"align":"left","baseline":"alphabetic","color":"#111"},"encoding":{"x":{"datum":-2.07,"type":"quantitative"},"y":{"datum":11877,"type":"quantitative"}}}
]},

{"width":189,"height":150,
"layer":[
{"data":{"name":"G"},"transform":[{"window":[{"op":"row_number","as":"rn"}],"groupby":["g"],"sort":[{"field":"v","order":"ascending"}]},{"joinaggregate":[{"op":"count","as":"n"}],"groupby":["g"]},{"calculate":"datum.g + [0,-1,1,-2,2,-3,3][datum.rn % 7] * 0.14 * min(1, max(0.35, datum.n / 35))","as":"xj"}],
"mark":{"type":"point","size":18,"strokeWidth":1,"opacity":1},
"encoding":{"x":{"field":"xj","type":"quantitative","scale":{"domain":[-0.751,3.943],"nice":false,"zero":false},"axis":{"values":[0,1,2,3],"labelExpr":"['0-0.5','1','2','3'][datum.value]","title":"SMT Tau","labelFontSize":14,"titleFontSize":15,"tickSize":3,"labelPadding":1,"titlePadding":4}},
"y":{"field":"v","type":"quantitative","scale":{"domain":[0,12014],"nice":false,"zero":false},"axis":{"values":[0,5000,10000],"format":"d","title":"GAP-43 (pg/ml)","labelFontSize":13.5,"titleFontSize":17,"tickSize":3,"labelPadding":0,"titlePadding":0}},
"shape":{"field":"g","type":"nominal","scale":{"domain":[0,1,2,3],"range":["circle","circle","square","circle"]},"legend":null},
"fill":{"field":"g","type":"nominal","scale":{"domain":[0,1,2,3],"range":["transparent","#a0a0a0","#8c8c8c","transparent"]},"legend":null},
"stroke":{"field":"g","type":"nominal","scale":{"domain":[0,1,2,3],"range":["#707070","#a0a0a0","#8c8c8c","#a8a8a8"]},"legend":null}}},
{"data":{"name":"sum"},"transform":[{"filter":"datum.p=='G'"}],"mark":{"type":"rule","color":"#111","strokeWidth":1.5},"encoding":{"x":{"field":"g","type":"quantitative"},"y":{"field":"q1","type":"quantitative"},"y2":{"field":"q3"}}},
{"data":{"name":"sum"},"transform":[{"filter":"datum.p=='G'"}],"mark":{"type":"tick","orient":"horizontal","color":"#111","size":32,"thickness":2},"encoding":{"x":{"field":"g","type":"quantitative"},"y":{"field":"med","type":"quantitative"}}},
{"data":{"name":"sum"},"transform":[{"filter":"datum.p=='G'"},{"fold":["q1","q3"],"as":["k","qv"]}],"mark":{"type":"tick","orient":"horizontal","color":"#111","size":18,"thickness":1.5},"encoding":{"x":{"field":"g","type":"quantitative"},"y":{"field":"qv","type":"quantitative"}}},
{"data":{"name":"sig"},"transform":[{"filter":"datum.p=='G'"}],"mark":{"type":"rule","color":"#999","strokeWidth":1.2},"encoding":{"x":{"field":"x1","type":"quantitative"},"x2":{"field":"x2"},"y":{"field":"y","type":"quantitative"}}},
{"data":{"name":"sig"},"transform":[{"filter":"datum.p=='G'"},{"calculate":"(datum.x1+datum.x2)/2","as":"xm"}],"mark":{"type":"text","fontSize":20,"baseline":"alphabetic","dy":7,"color":"#111"},"encoding":{"x":{"field":"xm","type":"quantitative"},"y":{"field":"y","type":"quantitative"},"text":{"field":"s"}}},
{"data":{"name":"one"},"mark":{"type":"text","text":"G","fontSize":21,"align":"left","baseline":"alphabetic","color":"#111"},"encoding":{"x":{"datum":-2.057,"type":"quantitative"},"y":{"datum":12278,"type":"quantitative"}}}
]},

{"width":187.5,"height":150,
"layer":[
{"data":{"name":"H"},"transform":[{"window":[{"op":"row_number","as":"rn"}],"groupby":["g"],"sort":[{"field":"v","order":"ascending"}]},{"joinaggregate":[{"op":"count","as":"n"}],"groupby":["g"]},{"calculate":"datum.g + [0,-1,1,-2,2,-3,3][datum.rn % 7] * 0.14 * min(1, max(0.35, datum.n / 35))","as":"xj"}],
"mark":{"type":"point","size":18,"strokeWidth":1,"opacity":1},
"encoding":{"x":{"field":"xj","type":"quantitative","scale":{"domain":[-0.858,3.803],"nice":false,"zero":false},"axis":{"values":[0,1,2,3],"labelExpr":"['0-0.5','1','2','3'][datum.value]","title":"SMT ThioPlaques","labelFontSize":14,"titleFontSize":15,"tickSize":3,"labelPadding":1,"titlePadding":4}},
"y":{"field":"v","type":"quantitative","scale":{"domain":[0,12014],"nice":false,"zero":false},"axis":{"values":[0,5000,10000],"format":"d","title":"GAP-43 (pg/ml)","labelFontSize":13.5,"titleFontSize":17,"tickSize":3,"labelPadding":0,"titlePadding":0}},
"shape":{"field":"g","type":"nominal","scale":{"domain":[0,1,2,3],"range":["circle","circle","square","circle"]},"legend":null},
"fill":{"field":"g","type":"nominal","scale":{"domain":[0,1,2,3],"range":["transparent","#a0a0a0","#8c8c8c","transparent"]},"legend":null},
"stroke":{"field":"g","type":"nominal","scale":{"domain":[0,1,2,3],"range":["#707070","#a0a0a0","#8c8c8c","#a8a8a8"]},"legend":null}}},
{"data":{"name":"sum"},"transform":[{"filter":"datum.p=='H'"}],"mark":{"type":"rule","color":"#111","strokeWidth":1.5},"encoding":{"x":{"field":"g","type":"quantitative"},"y":{"field":"q1","type":"quantitative"},"y2":{"field":"q3"}}},
{"data":{"name":"sum"},"transform":[{"filter":"datum.p=='H'"}],"mark":{"type":"tick","orient":"horizontal","color":"#111","size":32,"thickness":2},"encoding":{"x":{"field":"g","type":"quantitative"},"y":{"field":"med","type":"quantitative"}}},
{"data":{"name":"sum"},"transform":[{"filter":"datum.p=='H'"},{"fold":["q1","q3"],"as":["k","qv"]}],"mark":{"type":"tick","orient":"horizontal","color":"#111","size":18,"thickness":1.5},"encoding":{"x":{"field":"g","type":"quantitative"},"y":{"field":"qv","type":"quantitative"}}},
{"data":{"name":"sig"},"transform":[{"filter":"datum.p=='H'"}],"mark":{"type":"rule","color":"#999","strokeWidth":1.2},"encoding":{"x":{"field":"x1","type":"quantitative"},"x2":{"field":"x2"},"y":{"field":"y","type":"quantitative"}}},
{"data":{"name":"sig"},"transform":[{"filter":"datum.p=='H'"},{"calculate":"(datum.x1+datum.x2)/2","as":"xm"}],"mark":{"type":"text","fontSize":20,"baseline":"alphabetic","dy":7,"color":"#111"},"encoding":{"x":{"field":"xm","type":"quantitative"},"y":{"field":"y","type":"quantitative"},"text":{"field":"s"}}},
{"data":{"name":"one"},"mark":{"type":"text","text":"H","fontSize":21,"align":"left","baseline":"alphabetic","color":"#111"},"encoding":{"x":{"datum":-2.088,"type":"quantitative"},"y":{"datum":12334,"type":"quantitative"}}}
]},

{"width":174,"height":153,
"layer":[
{"data":{"name":"I"},"transform":[{"window":[{"op":"row_number","as":"rn"}],"groupby":["g"],"sort":[{"field":"v","order":"ascending"}]},{"joinaggregate":[{"op":"count","as":"n"}],"groupby":["g"]},{"calculate":"datum.g + [0,-1,1,-2,2,-3,3][datum.rn % 7] * 0.14 * min(1, max(0.35, datum.n / 35))","as":"xj"}],
"mark":{"type":"point","size":18,"strokeWidth":1,"opacity":1},
"encoding":{"x":{"field":"xj","type":"quantitative","scale":{"domain":[-0.801,3.488],"nice":false,"zero":false},"axis":{"values":[0,1,2,3],"labelExpr":"['0-0.5','1','2','3'][datum.value]","title":"OC Tau","labelFontSize":14,"titleFontSize":15,"tickSize":3,"labelPadding":1,"titlePadding":4}},
"y":{"field":"v","type":"quantitative","scale":{"domain":[0,12211],"nice":false,"zero":false},"axis":{"values":[0,5000,10000],"format":"d","title":"GAP-43 (pg/ml)","labelFontSize":13.5,"titleFontSize":17,"tickSize":3,"labelPadding":0,"titlePadding":0}},
"shape":{"field":"g","type":"nominal","scale":{"domain":[0,1,2,3],"range":["circle","circle","square","circle"]},"legend":null},
"fill":{"field":"g","type":"nominal","scale":{"domain":[0,1,2,3],"range":["transparent","#a0a0a0","#8c8c8c","transparent"]},"legend":null},
"stroke":{"field":"g","type":"nominal","scale":{"domain":[0,1,2,3],"range":["#707070","#a0a0a0","#8c8c8c","#a8a8a8"]},"legend":null}}},
{"data":{"name":"sum"},"transform":[{"filter":"datum.p=='I'"}],"mark":{"type":"rule","color":"#111","strokeWidth":1.5},"encoding":{"x":{"field":"g","type":"quantitative"},"y":{"field":"q1","type":"quantitative"},"y2":{"field":"q3"}}},
{"data":{"name":"sum"},"transform":[{"filter":"datum.p=='I'"}],"mark":{"type":"tick","orient":"horizontal","color":"#111","size":32,"thickness":2},"encoding":{"x":{"field":"g","type":"quantitative"},"y":{"field":"med","type":"quantitative"}}},
{"data":{"name":"sum"},"transform":[{"filter":"datum.p=='I'"},{"fold":["q1","q3"],"as":["k","qv"]}],"mark":{"type":"tick","orient":"horizontal","color":"#111","size":18,"thickness":1.5},"encoding":{"x":{"field":"g","type":"quantitative"},"y":{"field":"qv","type":"quantitative"}}},
{"data":{"name":"sig"},"transform":[{"filter":"datum.p=='I'"}],"mark":{"type":"rule","color":"#999","strokeWidth":1.2},"encoding":{"x":{"field":"x1","type":"quantitative"},"x2":{"field":"x2"},"y":{"field":"y","type":"quantitative"}}},
{"data":{"name":"sig"},"transform":[{"filter":"datum.p=='I'"},{"calculate":"(datum.x1+datum.x2)/2","as":"xm"}],"mark":{"type":"text","fontSize":20,"baseline":"alphabetic","dy":7,"color":"#111"},"encoding":{"x":{"field":"xm","type":"quantitative"},"y":{"field":"y","type":"quantitative"},"text":{"field":"s"}}},
{"data":{"name":"one"},"mark":{"type":"text","text":"I","fontSize":21,"align":"left","baseline":"alphabetic","color":"#111"},"encoding":{"x":{"datum":-1.972,"type":"quantitative"},"y":{"datum":11708,"type":"quantitative"}}}
]},

{"width":183.5,"height":153,
"layer":[
{"data":{"name":"J"},"transform":[{"window":[{"op":"row_number","as":"rn"}],"groupby":["g"],"sort":[{"field":"v","order":"ascending"}]},{"joinaggregate":[{"op":"count","as":"n"}],"groupby":["g"]},{"calculate":"datum.g + [0,-1,1,-2,2,-3,3][datum.rn % 7] * 0.14 * min(1, max(0.35, datum.n / 35))","as":"xj"}],
"mark":{"type":"point","size":18,"strokeWidth":1,"opacity":1},
"encoding":{"x":{"field":"xj","type":"quantitative","scale":{"domain":[-0.981,3.696],"nice":false,"zero":false},"axis":{"values":[0,1,2,3],"labelExpr":"['0-0.5','1','2','3'][datum.value]","title":"Cing Tau","labelFontSize":14,"titleFontSize":15,"tickSize":3,"labelPadding":1,"titlePadding":4}},
"y":{"field":"v","type":"quantitative","scale":{"domain":[0,12211],"nice":false,"zero":false},"axis":{"values":[0,5000,10000],"format":"d","title":"GAP-43 (pg/ml)","labelFontSize":13.5,"titleFontSize":17,"tickSize":3,"labelPadding":0,"titlePadding":0}},
"shape":{"field":"g","type":"nominal","scale":{"domain":[0,1,2,3],"range":["circle","circle","square","circle"]},"legend":null},
"fill":{"field":"g","type":"nominal","scale":{"domain":[0,1,2,3],"range":["transparent","#a0a0a0","#8c8c8c","transparent"]},"legend":null},
"stroke":{"field":"g","type":"nominal","scale":{"domain":[0,1,2,3],"range":["#707070","#a0a0a0","#8c8c8c","#a8a8a8"]},"legend":null}}},
{"data":{"name":"sum"},"transform":[{"filter":"datum.p=='J'"}],"mark":{"type":"rule","color":"#111","strokeWidth":1.5},"encoding":{"x":{"field":"g","type":"quantitative"},"y":{"field":"q1","type":"quantitative"},"y2":{"field":"q3"}}},
{"data":{"name":"sum"},"transform":[{"filter":"datum.p=='J'"}],"mark":{"type":"tick","orient":"horizontal","color":"#111","size":32,"thickness":2},"encoding":{"x":{"field":"g","type":"quantitative"},"y":{"field":"med","type":"quantitative"}}},
{"data":{"name":"sum"},"transform":[{"filter":"datum.p=='J'"},{"fold":["q1","q3"],"as":["k","qv"]}],"mark":{"type":"tick","orient":"horizontal","color":"#111","size":18,"thickness":1.5},"encoding":{"x":{"field":"g","type":"quantitative"},"y":{"field":"qv","type":"quantitative"}}},
{"data":{"name":"sig"},"transform":[{"filter":"datum.p=='J'"}],"mark":{"type":"rule","color":"#999","strokeWidth":1.2},"encoding":{"x":{"field":"x1","type":"quantitative"},"x2":{"field":"x2"},"y":{"field":"y","type":"quantitative"}}},
{"data":{"name":"sig"},"transform":[{"filter":"datum.p=='J'"},{"calculate":"(datum.x1+datum.x2)/2","as":"xm"}],"mark":{"type":"text","fontSize":20,"baseline":"alphabetic","dy":7,"color":"#111"},"encoding":{"x":{"field":"xm","type":"quantitative"},"y":{"field":"y","type":"quantitative"},"text":{"field":"s"}}},
{"data":{"name":"one"},"mark":{"type":"text","text":"J","fontSize":21,"align":"left","baseline":"alphabetic","color":"#111"},"encoding":{"x":{"datum":-2.269,"type":"quantitative"},"y":{"datum":11596,"type":"quantitative"}}}
]},

{"width":184.5,"height":153,
"layer":[
{"data":{"name":"K"},"transform":[{"window":[{"op":"row_number","as":"rn"}],"groupby":["g"],"sort":[{"field":"v","order":"ascending"}]},{"joinaggregate":[{"op":"count","as":"n"}],"groupby":["g"]},{"calculate":"datum.g + [0,-1,1,-2,2,-3,3][datum.rn % 7] * 0.14 * min(1, max(0.35, datum.n / 35))","as":"xj"}],
"mark":{"type":"point","size":18,"strokeWidth":1,"opacity":1},
"encoding":{"x":{"field":"xj","type":"quantitative","scale":{"domain":[-0.707,3.868],"nice":false,"zero":false},"axis":{"values":[0,1,2,3],"labelExpr":"['0-0.5','1','2','3'][datum.value]","title":"Cing ThioPlaque","labelFontSize":14,"titleFontSize":15,"tickSize":3,"labelPadding":1,"titlePadding":4}},
"y":{"field":"v","type":"quantitative","scale":{"domain":[0,12211],"nice":false,"zero":false},"axis":{"values":[0,5000,10000],"format":"d","title":"GAP-43 (pg/ml)","labelFontSize":13.5,"titleFontSize":17,"tickSize":3,"labelPadding":0,"titlePadding":0}},
"shape":{"field":"g","type":"nominal","scale":{"domain":[0,1,2,3],"range":["circle","triangle-down","circle","circle"]},"legend":null},
"fill":{"field":"g","type":"nominal","scale":{"domain":[0,1,2,3],"range":["transparent","#ababab","#a8a8a8","#000000"]},"legend":null},
"stroke":{"field":"g","type":"nominal","scale":{"domain":[0,1,2,3],"range":["#707070","#ababab","#a8a8a8","#000000"]},"legend":null}}},
{"data":{"name":"sum"},"transform":[{"filter":"datum.p=='K'"}],"mark":{"type":"rule","color":"#111","strokeWidth":1.5},"encoding":{"x":{"field":"g","type":"quantitative"},"y":{"field":"q1","type":"quantitative"},"y2":{"field":"q3"}}},
{"data":{"name":"sum"},"transform":[{"filter":"datum.p=='K'"}],"mark":{"type":"tick","orient":"horizontal","color":"#111","size":32,"thickness":2},"encoding":{"x":{"field":"g","type":"quantitative"},"y":{"field":"med","type":"quantitative"}}},
{"data":{"name":"sum"},"transform":[{"filter":"datum.p=='K'"},{"fold":["q1","q3"],"as":["k","qv"]}],"mark":{"type":"tick","orient":"horizontal","color":"#111","size":18,"thickness":1.5},"encoding":{"x":{"field":"g","type":"quantitative"},"y":{"field":"qv","type":"quantitative"}}},
{"data":{"name":"sig"},"transform":[{"filter":"datum.p=='K'"}],"mark":{"type":"rule","color":"#bbbbbb","strokeWidth":2},"encoding":{"x":{"field":"x1","type":"quantitative"},"x2":{"field":"x2"},"y":{"field":"y","type":"quantitative"}}},
{"data":{"name":"sig"},"transform":[{"filter":"datum.p=='K'"},{"calculate":"(datum.x1+datum.x2)/2","as":"xm"}],"mark":{"type":"text","fontSize":20,"baseline":"alphabetic","dy":7,"color":"#111"},"encoding":{"x":{"field":"xm","type":"quantitative"},"y":{"field":"y","type":"quantitative"},"text":{"field":"s"}}},
{"data":{"name":"one"},"mark":{"type":"text","text":"K","fontSize":21,"align":"left","baseline":"alphabetic","color":"#111"},"encoding":{"x":{"datum":-1.984,"type":"quantitative"},"y":{"datum":11756,"type":"quantitative"}}}
]},

{"width":174,"height":146,
"layer":[
{"data":{"name":"L"},"transform":[{"window":[{"op":"row_number","as":"rn"}],"groupby":["g"],"sort":[{"field":"v","order":"ascending"}]},{"joinaggregate":[{"op":"count","as":"n"}],"groupby":["g"]},{"calculate":"datum.g + [0,-1,1,-2,2,-3,3][datum.rn % 7] * 0.14 * min(1, max(0.35, datum.n / 35))","as":"xj"}],
"mark":{"type":"point","size":18,"strokeWidth":1,"opacity":1},
"encoding":{"x":{"field":"xj","type":"quantitative","scale":{"domain":[-0.806,3.509],"nice":false,"zero":false},"axis":{"values":[0,1,2,3],"labelExpr":"['0-0.5','1','2','3'][datum.value]","title":"MF Tau","labelFontSize":14,"titleFontSize":15,"tickSize":3,"labelPadding":1,"titlePadding":4}},
"y":{"field":"v","type":"quantitative","scale":{"domain":[0,11587],"nice":false,"zero":false},"axis":{"values":[0,5000,10000],"format":"d","title":"GAP-43 (pg/ml)","labelFontSize":13.5,"titleFontSize":17,"tickSize":3,"labelPadding":0,"titlePadding":0}},
"shape":{"field":"g","type":"nominal","scale":{"domain":[0,1,2,3],"range":["circle","triangle-down","circle","circle"]},"legend":null},
"fill":{"field":"g","type":"nominal","scale":{"domain":[0,1,2,3],"range":["transparent","#9a9a9a","#a8a8a8","#000000"]},"legend":null},
"stroke":{"field":"g","type":"nominal","scale":{"domain":[0,1,2,3],"range":["#707070","#9a9a9a","#a8a8a8","#000000"]},"legend":null}}},
{"data":{"name":"sum"},"transform":[{"filter":"datum.p=='L'"}],"mark":{"type":"rule","color":"#111","strokeWidth":1.5},"encoding":{"x":{"field":"g","type":"quantitative"},"y":{"field":"q1","type":"quantitative"},"y2":{"field":"q3"}}},
{"data":{"name":"sum"},"transform":[{"filter":"datum.p=='L'"}],"mark":{"type":"tick","orient":"horizontal","color":"#111","size":32,"thickness":2},"encoding":{"x":{"field":"g","type":"quantitative"},"y":{"field":"med","type":"quantitative"}}},
{"data":{"name":"sum"},"transform":[{"filter":"datum.p=='L'"},{"fold":["q1","q3"],"as":["k","qv"]}],"mark":{"type":"tick","orient":"horizontal","color":"#111","size":18,"thickness":1.5},"encoding":{"x":{"field":"g","type":"quantitative"},"y":{"field":"qv","type":"quantitative"}}},
{"data":{"name":"sig"},"transform":[{"filter":"datum.p=='L'"}],"mark":{"type":"rule","color":"#999","strokeWidth":1.2},"encoding":{"x":{"field":"x1","type":"quantitative"},"x2":{"field":"x2"},"y":{"field":"y","type":"quantitative"}}},
{"data":{"name":"sig"},"transform":[{"filter":"datum.p=='L'"},{"calculate":"(datum.x1+datum.x2)/2","as":"xm"}],"mark":{"type":"text","fontSize":20,"baseline":"alphabetic","dy":7,"color":"#111"},"encoding":{"x":{"field":"xm","type":"quantitative"},"y":{"field":"y","type":"quantitative"},"text":{"field":"s"}}},
{"data":{"name":"one"},"mark":{"type":"text","text":"L","fontSize":21,"align":"left","baseline":"alphabetic","color":"#111"},"encoding":{"x":{"datum":-2.182,"type":"quantitative"},"y":{"datum":11563,"type":"quantitative"}}}
]},

{"width":180.2,"height":146,
"layer":[
{"data":{"name":"M"},"transform":[{"window":[{"op":"row_number","as":"rn"}],"groupby":["g"],"sort":[{"field":"v","order":"ascending"}]},{"joinaggregate":[{"op":"count","as":"n"}],"groupby":["g"]},{"calculate":"datum.g + [0,-1,1,-2,2,-3,3][datum.rn % 7] * 0.14 * min(1, max(0.35, datum.n / 35))","as":"xj"}],
"mark":{"type":"point","size":18,"strokeWidth":1,"opacity":1},
"encoding":{"x":{"field":"xj","type":"quantitative","scale":{"domain":[-0.926,3.468],"nice":false,"zero":false},"axis":{"values":[0,1,2,3],"labelExpr":"['0','1','2','3'][datum.value]","title":"MF Gliosis","labelFontSize":14,"titleFontSize":15,"tickSize":3,"labelPadding":1,"titlePadding":4}},
"y":{"field":"v","type":"quantitative","scale":{"domain":[0,11587],"nice":false,"zero":false},"axis":{"values":[0,5000,10000],"format":"d","title":"GAP-43 (pg/ml)","labelFontSize":13.5,"titleFontSize":17,"tickSize":3,"labelPadding":0,"titlePadding":0}},
"shape":{"field":"g","type":"nominal","scale":{"domain":[0,1,2,3],"range":["circle","circle","square","circle"]},"legend":null},
"fill":{"field":"g","type":"nominal","scale":{"domain":[0,1,2,3],"range":["transparent","#a0a0a0","#8c8c8c","transparent"]},"legend":null},
"stroke":{"field":"g","type":"nominal","scale":{"domain":[0,1,2,3],"range":["#707070","#a0a0a0","#8c8c8c","#a8a8a8"]},"legend":null}}},
{"data":{"name":"sum"},"transform":[{"filter":"datum.p=='M'"}],"mark":{"type":"rule","color":"#111","strokeWidth":1.5},"encoding":{"x":{"field":"g","type":"quantitative"},"y":{"field":"q1","type":"quantitative"},"y2":{"field":"q3"}}},
{"data":{"name":"sum"},"transform":[{"filter":"datum.p=='M'"}],"mark":{"type":"tick","orient":"horizontal","color":"#111","size":32,"thickness":2},"encoding":{"x":{"field":"g","type":"quantitative"},"y":{"field":"med","type":"quantitative"}}},
{"data":{"name":"sum"},"transform":[{"filter":"datum.p=='M'"},{"fold":["q1","q3"],"as":["k","qv"]}],"mark":{"type":"tick","orient":"horizontal","color":"#111","size":18,"thickness":1.5},"encoding":{"x":{"field":"g","type":"quantitative"},"y":{"field":"qv","type":"quantitative"}}},
{"data":{"name":"sig"},"transform":[{"filter":"datum.p=='M'"}],"mark":{"type":"rule","color":"#111","strokeWidth":1.5},"encoding":{"x":{"field":"x1","type":"quantitative"},"x2":{"field":"x2"},"y":{"field":"y","type":"quantitative"}}},
{"data":{"name":"sig"},"transform":[{"filter":"datum.p=='M'"},{"calculate":"(datum.x1+datum.x2)/2","as":"xm"}],"mark":{"type":"text","fontSize":20,"baseline":"alphabetic","dy":7,"color":"#111"},"encoding":{"x":{"field":"xm","type":"quantitative"},"y":{"field":"y","type":"quantitative"},"text":{"field":"s"}}},
{"data":{"name":"one"},"mark":{"type":"text","text":"M","fontSize":21,"align":"left","baseline":"alphabetic","color":"#111"},"encoding":{"x":{"datum":-2.115,"type":"quantitative"},"y":{"datum":11563,"type":"quantitative"}}}
]}
],"columns":3,"align":"each","bounds":"flush","spacing":{"row":55,"column":65}}
]
}
